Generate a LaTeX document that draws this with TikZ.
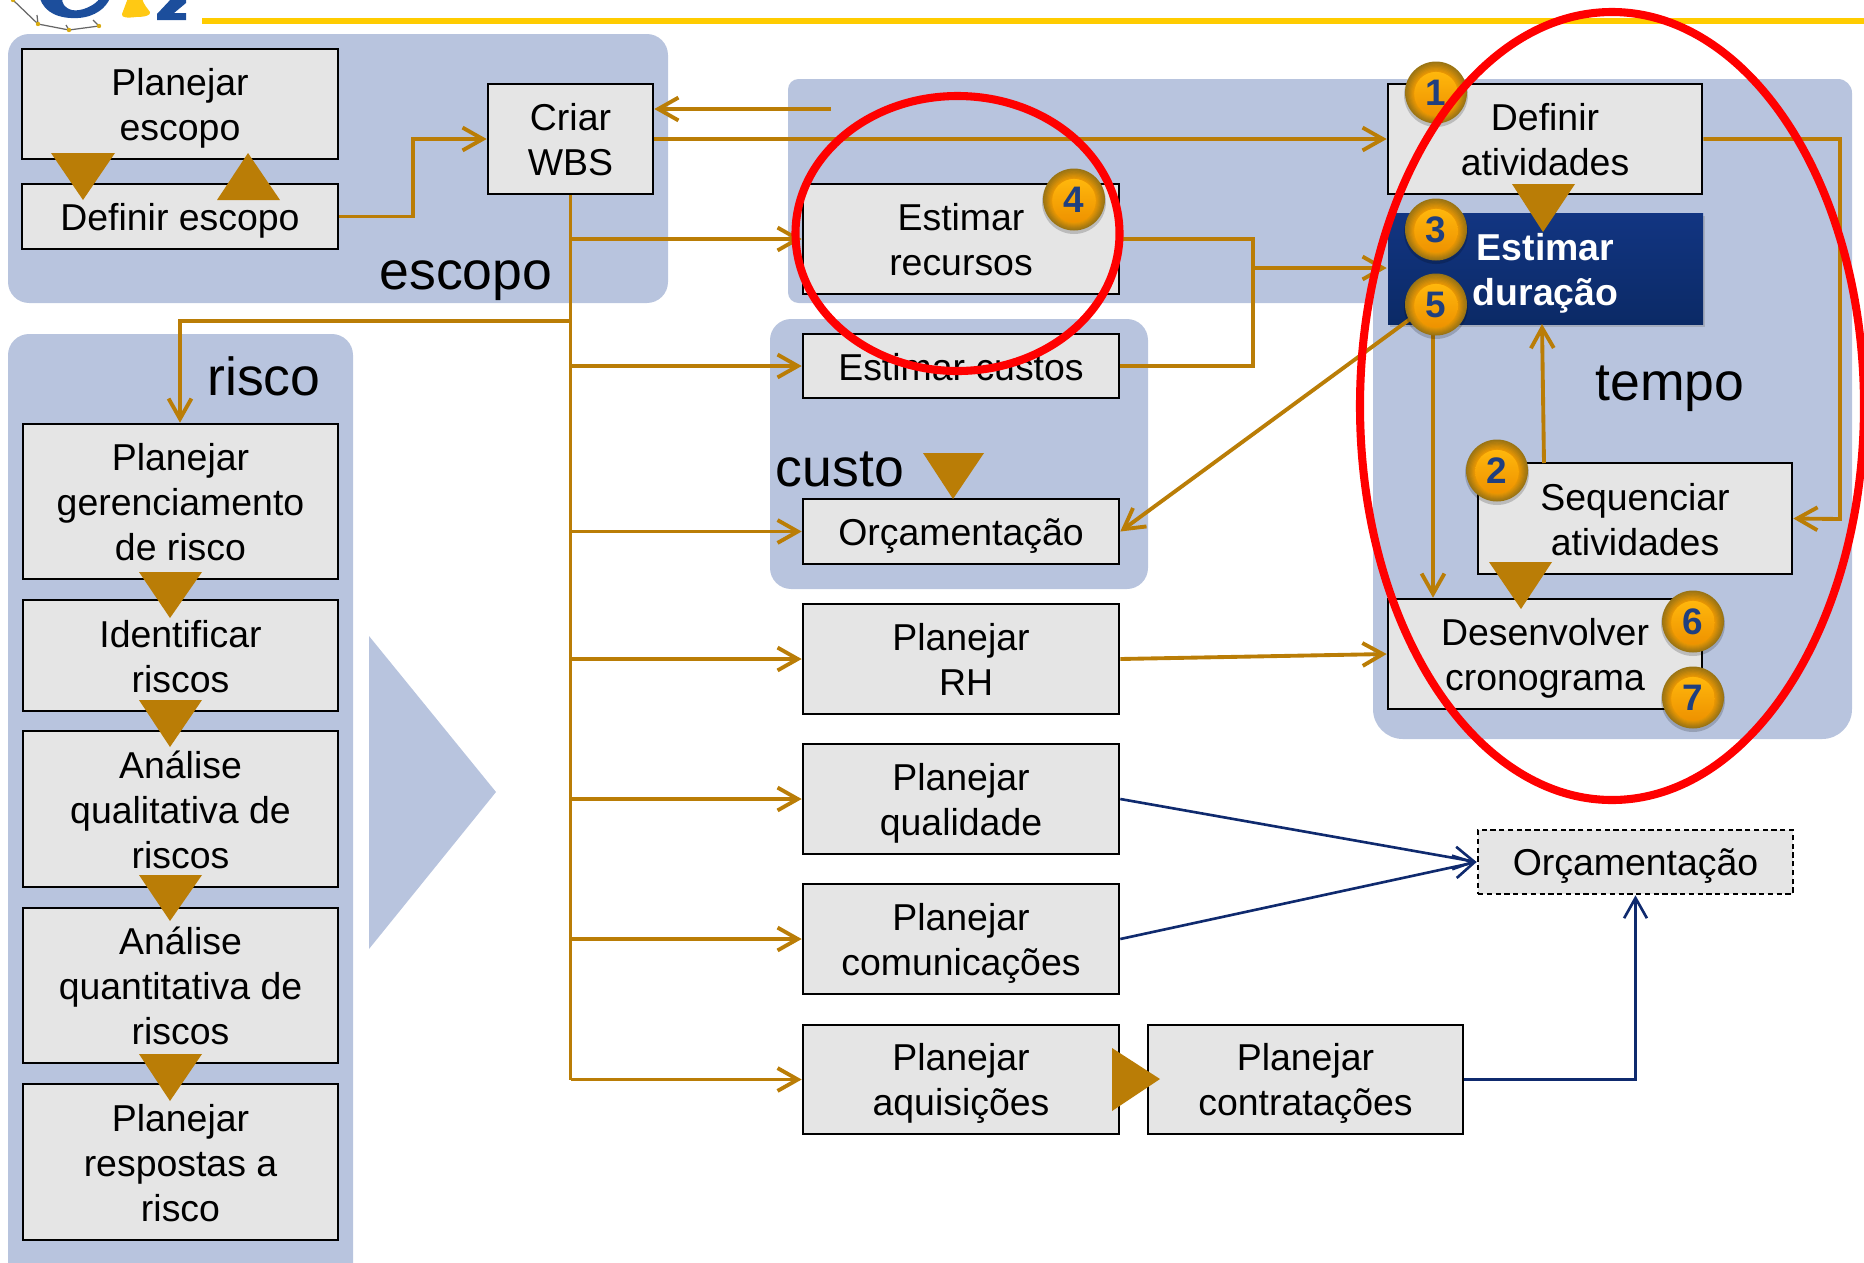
\documentclass[tikz,border=0pt]{standalone}
\usepackage{fontspec}
\setmainfont{Liberation Sans}
\usetikzlibrary{arrows.meta,shapes.geometric,shadows,calc}
\definecolor{panel}{HTML}{B8C4DE}
\definecolor{boxfill}{HTML}{E5E5E5}
\definecolor{gold}{HTML}{BA7D06}
\definecolor{navyline}{HTML}{0F2A6E}
\definecolor{logoblue}{HTML}{1C4E9C}
\definecolor{logoyellow}{HTML}{FFC914}
\definecolor{barline}{HTML}{FFCC00}
\definecolor{digit}{HTML}{1F3F7F}
\definecolor{badgeRim}{HTML}{9A7414}
\definecolor{badgeMid}{HTML}{F09A02}
\definecolor{badgeTop}{HTML}{FFB70C}
\definecolor{badgeLow}{HTML}{EE9200}
\definecolor{TopBlue}{HTML}{123582}
\definecolor{BottomBlue}{HTML}{0B2A66}
\tikzset{
  procbox/.style={draw=black,line width=1.5pt,fill=boxfill,inner sep=0pt,align=center,
    font=\fontsize{21.3}{25.6}\selectfont},
  dashbox/.style={procbox,densely dashed},
  bluebox/.style={inner sep=0pt,align=center,text=white,
    top color=TopBlue,bottom color=BottomBlue,
    font=\fontsize{21.3}{25.6}\selectfont\bfseries,
    drop shadow={shadow xshift=1pt,shadow yshift=-1.5pt,opacity=.35}},
  goldtri/.style={fill=gold,draw=none},
  arr/.style={draw=gold,line width=2.2pt,
    -{Straight Barb[length=11.5pt,width=13pt,line width=2.2pt]}},
  plain/.style={draw=gold,line width=2.2pt},
  navyarr/.style={draw=navyline,line width=1.5pt,
    -{Straight Barb[length=11.5pt,width=13pt,line width=1.5pt]}},
  panelfill/.style={fill=panel,draw=none},
  bigword/.style={anchor=base,inner sep=0pt,font=\fontsize{30.5}{34}\selectfont},
  badge/.style={circle,minimum size=35pt,inner sep=0pt,draw=none,
    text=digit,font=\fontsize{21}{25}\selectfont\bfseries},
  redring/.style={draw=red,line width=4.6pt},
}
\newcommand\bx[7][procbox]{%
  \node[#1,minimum width={(#5-#3)*0.02cm},minimum height={(#6-#4)*0.02cm}]
    (#2) at ({(#3+#5)/2},{(#4+#6)/2}) {\rule{0pt}{20.4pt}#7\rule[-4.4pt]{0pt}{4.4pt}};}
\newcommand\bdg[3]{%
  \fill[black,opacity=.18] (#2,#3+4) circle [radius=32];
  \foreach \i in {0,...,8}{%
    \pgfmathsetmacro\p{\i*100/8}%
    \fill[badgeMid!\p!badgeRim] (#2,#3+1.5+\i*0.15) circle [radius={31-\i*1.15}];}%
  \shade[top color=badgeTop,bottom color=badgeLow] (#2,#3+2.7) circle [radius=21.8];
  \node[badge] (b#1) at (#2,#3+1.5) {#1};}
\begin{document}
\begin{tikzpicture}[x=0.02cm,y=-0.02cm]
\useasboundingbox (0,0) rectangle (1864,1262);
\clip (0,0) rectangle (1864,1262);
% logo fragment
\fill[logoblue] (40,-2) .. controls (44,13) and (60,19) .. (78,18) .. controls (95,17) and (106,8) .. (110,-2) -- (100,-2) .. controls (95,6) and (80,12) .. (72,10) .. controls (64,8) and (62,3) .. (62,-2) -- cycle;
\fill[logoyellow] (128,-2) -- (122,14) .. controls (121,18) and (128,18) .. (136,17) .. controls (146,17) and (151,15) .. (150,12) .. controls (148,9) and (143,4) .. (142,-2) -- cycle;
\fill[logoblue] (172,-2) -- (186,-2) -- (186,3) -- (174,13) -- (186,13) -- (186,20) -- (157,20) -- (157,14) -- cycle;
\draw[black!60,line width=.7pt] (13,0) -- (38,24) -- (69,30) -- (99,26) (38,24) -- (37,15) (69,30) -- (66,25) (99,26) -- (93,20);
\foreach \p in {(13,0),(38,24),(69,30),(99,26)} \fill[logoyellow!85!black] \p circle [radius=2.2];
\draw[barline,line width=3.4pt] (202,21) -- (1864,21);
% panels
\fill[panelfill,rounded corners=12pt] (8,34) rectangle (668,303);
\fill[panelfill,rounded corners=12pt] (8,334) rectangle (353,1300);
\fill[panelfill,rounded corners=12pt] (770,319) rectangle (1148,589);
\fill[panelfill] (1000,79) [rounded corners=8pt] -- (1852,79) [rounded corners=17pt] -- (1852,739) -- (1373,739) [sharp corners] -- (1373,303) [rounded corners=6pt] -- (788,303) -- (788,79) -- cycle;
\fill[panelfill] (369,636) -- (496,792) -- (369,949) -- cycle;
% boxes
\bx{pe}{22}{49}{338}{159}{Planejar\\escopo}
\bx{de}{22}{184}{338}{249}{Definir escopo}
\bx{wbs}{488}{84}{653}{194}{Criar\\WBS}
\bx{pg}{23}{424}{338}{579}{Planejar\\gerenciamento\\de risco}
\bx{ir}{23}{600}{338}{711}{Identificar\\riscos}
\bx{aq}{23}{731}{338}{887}{Análise\\qualitativa de\\riscos}
\bx{an}{23}{908}{338}{1063}{Análise\\quantitativa de\\riscos}
\bx{pr}{23}{1084}{338}{1240}{Planejar\\respostas a\\risco}
\bx{er}{803}{184}{1119}{294}{Estimar\\recursos}
\bx{ec}{803}{334}{1119}{398}{Estimar custos}
\bx{oc}{803}{499}{1119}{564}{Orçamentação}
\bx{rh}{803}{604}{1119}{714}{Planejar\\\hspace*{.278em}RH}
\bx{pq}{803}{744}{1119}{854}{Planejar\\qualidade}
\bx{pc}{803}{884}{1119}{994}{Planejar\\comunicações}
\bx{pa}{803}{1025}{1119}{1134}{Planejar\\aquisições}
\bx{pt}{1148}{1025}{1463}{1134}{Planejar\\contratações}
\bx{da}{1388}{84}{1702}{194}{Definir\\atividades}
\bx{sa}{1478}{463}{1792}{574}{Sequenciar\\atividades}
\bx{dc}{1388}{599}{1702}{709}{Desenvolver\\cronograma}
\bx[dashbox]{ob}{1478}{830}{1793}{894}{Orçamentação}
% free connector ends
\coordinate (ret) at (831,109);
\coordinate (junction) at (1253,268);
\coordinate (wrap) at (1840,519);
\coordinate (seqtop) at (1544,463);
\coordinate (edlow) at (1542,324);
\coordinate (vtop) at (1433,330);
\coordinate (elbowA) at (413,139);
\coordinate (riskbar) at (180,321);
\coordinate (five) at (1436,300);
% connectors
\draw[plain] (wbs.south) -- (wbs.south |- pa.west);
\draw[arr] (de.east) -- (de.east -| elbowA) -- (elbowA) -- (wbs.west);
\draw[arr] (ret) -- (wbs.east |- ret);
\draw[arr] (wbs.east) -- (da.west);
\draw[arr] (wbs.south |- riskbar) -- (riskbar) -- (pg.north -| riskbar);
\foreach \t in {er,ec,oc,rh,pq,pc,pa}{\draw[arr] (wbs.south |- \t.west) -- (\t.west);}
\draw[plain] (er.east) -- (er.east -| junction) -- (junction);
\draw[plain] (ec.east) -- (ec.east -| junction) -- (junction);
\draw[arr] (junction) -- (junction -| da.west);
\draw[arr] (da.east) -- (da.east -| wrap) -- (wrap) -- (sa.east);
\draw[arr] (vtop) -- (vtop |- dc.north);
\draw[arr] (rh.east) -- (dc.west);
\draw[navyarr] (pq.east) -- (ob.west);
\draw[navyarr] (pc.east) -- (ob.west);
\draw[navyarr] (pt.east) -- (pt.east -| ob.south) -- (ob.south);
\bx[bluebox]{ed}{1388}{213}{1703}{324}{Estimar\\duração}
\draw[arr] (five) -- (oc.east);
\draw[arr] (seqtop) -- (edlow);
% triangles
\fill[goldtri] (51,153) -- (115,153) -- (83,200) -- cycle;
\fill[goldtri] (217,200) -- (280,200) -- (248,153) -- cycle;
\fill[goldtri] (139,572) -- (202,572) -- (170,618) -- cycle;
\fill[goldtri] (139,700) -- (202,700) -- (170,747) -- cycle;
\fill[goldtri] (139,875) -- (202,875) -- (170,921) -- cycle;
\fill[goldtri] (139,1054) -- (202,1054) -- (170,1101) -- cycle;
\fill[goldtri] (923,453) -- (984,453) -- (953,499) -- cycle;
\fill[goldtri] (1112,1048) -- (1160,1079) -- (1112,1111) -- cycle;
\fill[goldtri] (1512,184) -- (1575,184) -- (1543,232) -- cycle;
\fill[goldtri] (1489,562) -- (1552,562) -- (1521,609) -- cycle;
% panel words
\node[bigword] (wescopo) at (466,289) {escopo};
\node[bigword] (wrisco) at (264,395) {risco};
\node[bigword] (wcusto) at (840,486) {custo};
\node[bigword] (wtempo) at (1670,400) {tempo};
% badges
\bdg{1}{1436}{91}
\bdg{3}{1436}{228}
\bdg{5}{1436}{303}
\bdg{2}{1497}{469}
\bdg{4}{1074}{198}
\bdg{6}{1693}{620}
\bdg{7}{1693}{696}
% red rings
\draw[redring] (957.5,233.5) ellipse [x radius=162,y radius=137.5];
\draw[redring] (1612,406) ellipse [x radius=252,y radius=394];
\end{tikzpicture}
\end{document}
